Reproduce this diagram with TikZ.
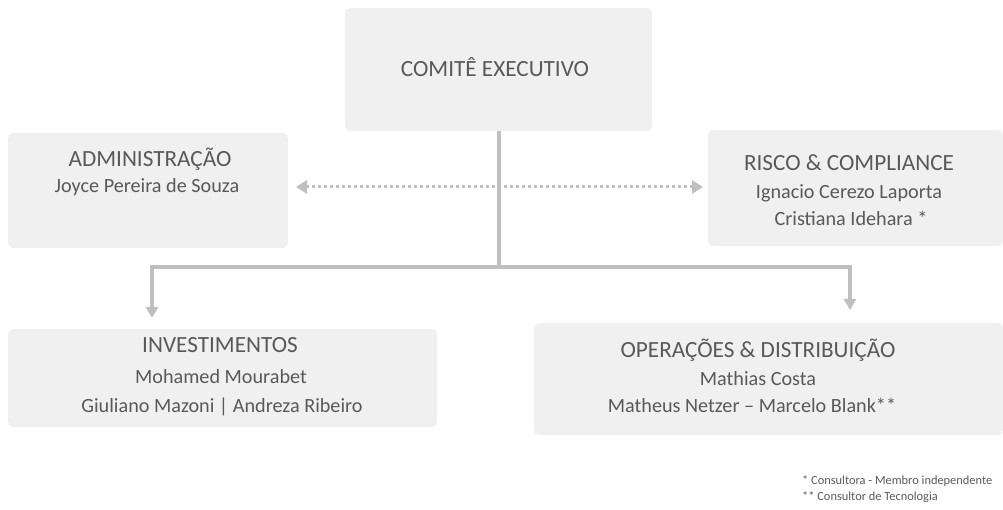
\documentclass[tikz,border=0pt]{standalone}
\usepackage{fontspec}
\setmainfont{Carlito}
\usetikzlibrary{arrows.meta}
\definecolor{boxfill}{HTML}{F0F0F0}
\definecolor{txt}{HTML}{595959}
\definecolor{ln}{HTML}{BFBFBF}
\begin{document}
\begin{tikzpicture}[x=1pt,y=-1pt,
  box/.style={fill=boxfill,rounded corners=5pt},
  ttl/.style={text=txt,font=\fontsize{23.2}{26}\selectfont,inner sep=0pt,anchor=base},
  nm/.style={text=txt,font=\fontsize{20.2}{23}\selectfont,inner sep=0pt,anchor=base},
  fn/.style={text=txt,font=\fontsize{12.4}{15}\selectfont,inner sep=0pt,anchor=base west},
  conn/.style={draw=ln,line width=3.5pt},
  tip/.style={-{Triangle[length=11pt,width=12pt]}}]
\useasboundingbox (0,0) rectangle (1003,510);
% boxes
\fill[box] (345,8) rectangle (652,131);
\fill[box] (8,133) rectangle (288,248);
\fill[box] (708,130) rectangle (1003,246);
\fill[box] (8,329) rectangle (437,427);
\fill[box] (534,323) rectangle (1003,435);
% texts
\node[ttl] (t1) at (495,77) {COMITÊ EXECUTIVO};
\node[ttl] (t2) at (150,167) {ADMINISTRAÇÃO};
\node[nm] (n21) at (147,193) {Joyce Pereira de Souza};
\node[ttl] (t3) at (849,171) {RISCO \& COMPLIANCE};
\node[nm] (n31) at (849,199) {Ignacio Cerezo Laporta};
\node[nm] (n32) at (851,226) {Cristiana Idehara *};
\node[ttl] (t4) at (220,352) {INVESTIMENTOS};
\node[nm] (n41) at (221,383) {Mohamed Mourabet};
\node[nm] (n42) at (222,412) {Giuliano Mazoni | Andreza Ribeiro};
\node[ttl] (t5) at (758,357) {OPERAÇÕES \& DISTRIBUIÇÃO};
\node[nm] (n51) at (758,385) {Mathias Costa};
\node[nm] (n52) at (752,412) {Matheus Netzer – Marcelo Blank**};
\node[fn] (f1) at (802,484) {* Consultora - Membro independente};
\node[fn] (f2) at (802,500) {** Consultor de Tecnologia};
% connectors
\coordinate (top) at (499,131);
\coordinate (j) at (499,267);
\coordinate (lt) at (152,267);
\coordinate (rt) at (850,267);
\coordinate (la) at (152,318);
\coordinate (ra) at (850,310);
\draw[conn,line cap=butt] (top) -- (j);
\draw[conn,tip] (j) -- (lt) -- (la);
\draw[conn,tip] (j) -- (rt) -- (ra);
\coordinate (dl) at (296,187);
\coordinate (dr) at (703,187);
\draw[draw=ln,line width=3pt,dash pattern=on 3pt off 3pt,{Triangle[length=11pt,width=13pt]}-{Triangle[length=11pt,width=13pt]}] (dl) -- (dr);
\end{tikzpicture}
\end{document}
